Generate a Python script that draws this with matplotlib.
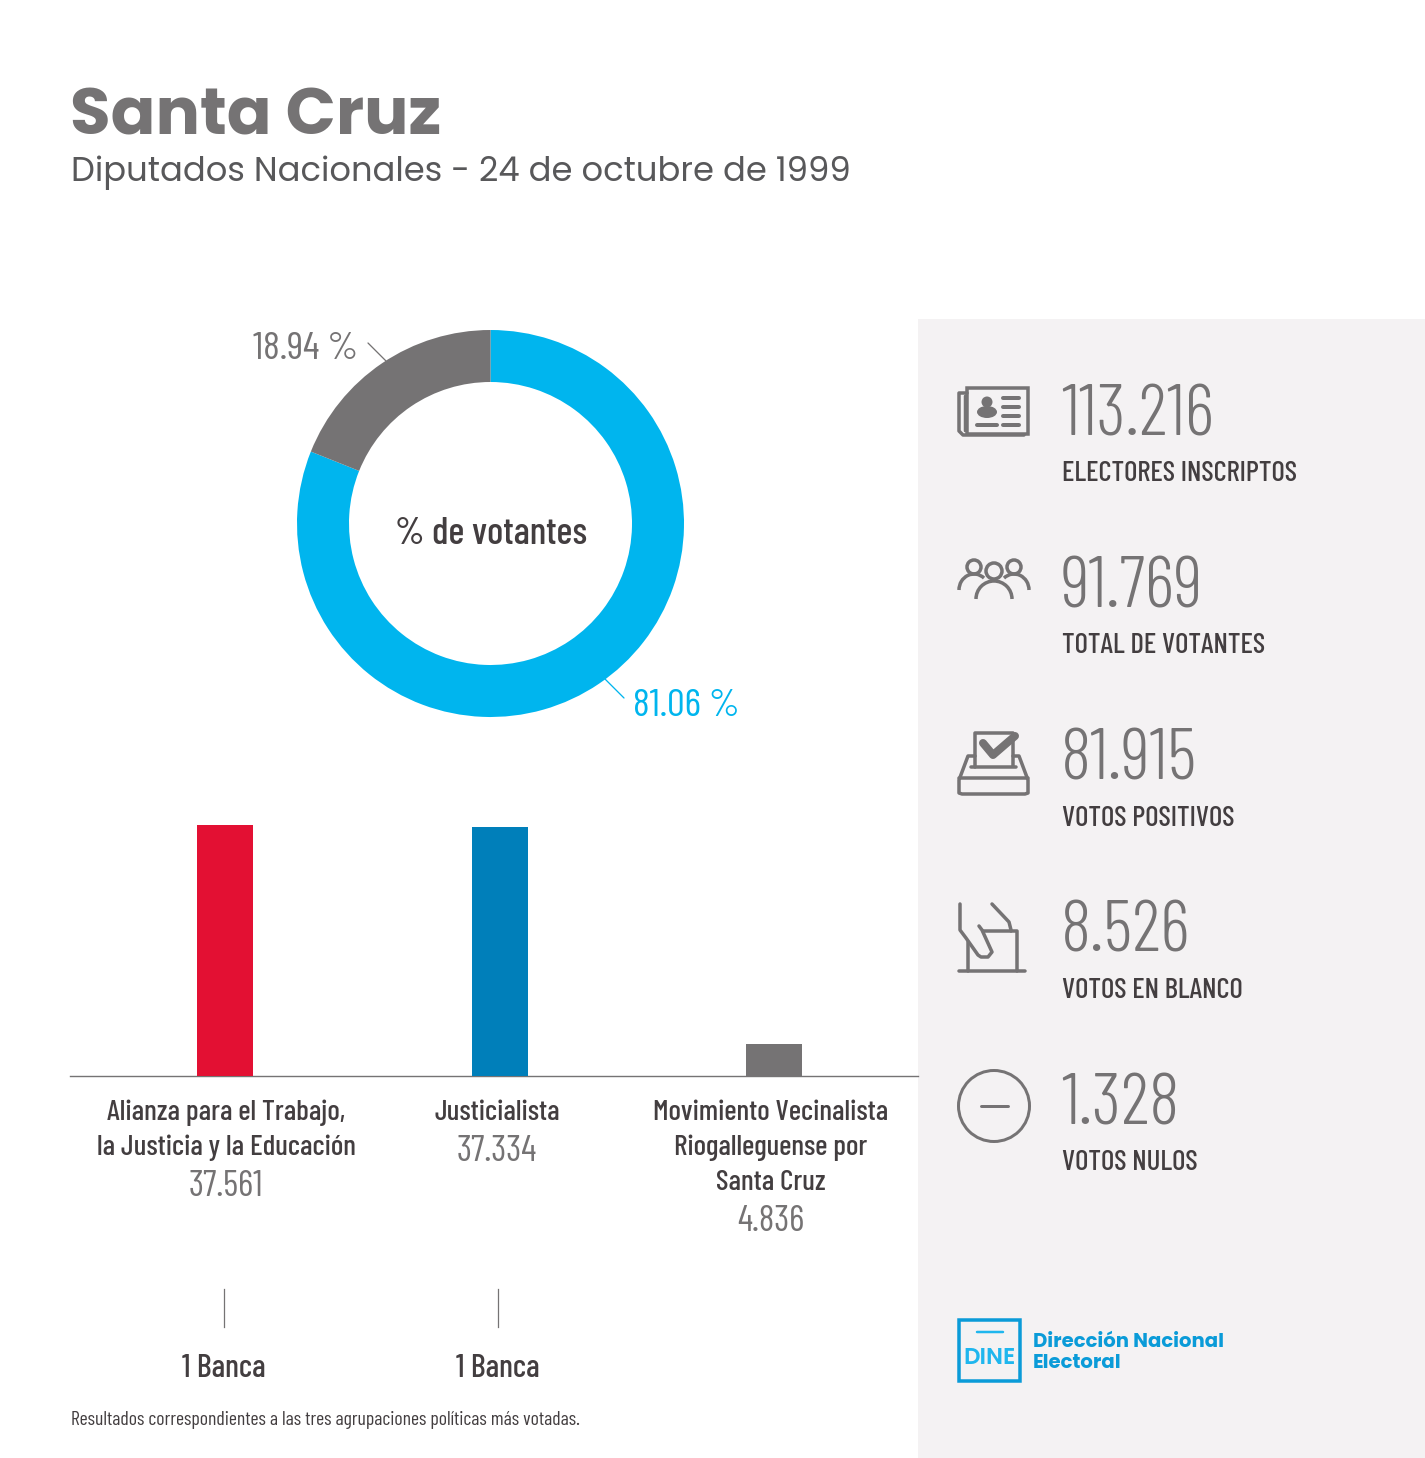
import matplotlib
matplotlib.use('Agg')
import matplotlib.pyplot as plt
from matplotlib.patches import Rectangle, Circle, Ellipse, Arc

# datos
donut_labels = ['81.06 %', '18.94 %']
donut_values = [81.06, 18.94]
partidos = ['Alianza para el Trabajo,\nla Justicia y la Educación', 'Justicialista',
            'Movimiento Vecinalista\nRiogalleguense por\nSanta Cruz']
votos = [37561, 37334, 4836]
votos_txt = ['37.561', '37.334', '4.836']
bancas = ['1 Banca', '1 Banca']
stats_valor = ['113.216', '91.769', '81.915', '8.526', '1.328']
stats_label = ['ELECTORES INSCRIPTOS', 'TOTAL DE VOTANTES', 'VOTOS POSITIVOS',
               'VOTOS EN BLANCO', 'VOTOS NULOS']

GRIS = '#757374'
OSCURO = '#433E40'
CELESTE = '#00B5EE'
colores_barras = ['#E31033', '#007FBA', GRIS]
NARROW = ['Barlow Condensed', 'Roboto Condensed', 'Roboto', 'DejaVu Sans']
ANCHA = ['Poppins', 'Inter', 'DejaVu Sans']

W, H = 1425, 1458
fig = plt.figure(figsize=(W / 100, H / 100), dpi=100, facecolor='white')

# fondo en coordenadas de pixel
bg = fig.add_axes([0, 0, 1, 1])
bg.set_xlim(0, W)
bg.set_ylim(H, 0)
bg.axis('off')


def txt(x, y, s, size, color=GRIS, family=NARROW, weight='normal', ha='left'):
    return bg.text(x, y, s, fontsize=size * 0.72, color=color, family=family, weight=weight,
                   ha=ha, va='baseline')


def linea(xs, ys, lw=3.0, color=GRIS):
    bg.plot(xs, ys, color=color, lw=lw * 0.72, solid_capstyle='round', solid_joinstyle='round')


bg.add_patch(Rectangle((918, 319), W - 918, H - 319, fc='#F4F2F3', ec='none'))

txt(70, 134, 'Santa Cruz', 66, family=ANCHA, weight='bold')
txt(71, 181, 'Diputados Nacionales - 24 de octubre de 1999', 33.7, family=ANCHA, color='#58585A')

# dona
donut = fig.add_axes([(490.5 - 193.5) / W, 1 - (523.5 + 193.5) / H, 387 / W, 387 / H])
donut.pie(donut_values, colors=[CELESTE, GRIS], startangle=90, counterclock=False, radius=1.0,
          wedgeprops={'width': 52 / 193.5})
donut.set_xlim(-1, 1)
donut.set_ylim(-1, 1)

txt(491, 544, '% de votantes', 38, color=OSCURO, ha='center', weight=500)
txt(253, 359, donut_labels[1], 39.5)
txt(633, 716, donut_labels[0], 39.5, color=CELESTE)
linea([368, 386], [343, 361], lw=1.3)
linea([605, 624], [679, 698], lw=1.3, color=CELESTE)

# barras
escala = 251 / votos[0]
barras = fig.add_axes([70 / W, 1 - 1076 / H, 848 / W, 300 / H])
barras.bar(range(3), votos, width=56 / 274.5, color=colores_barras)
barras.set_xlim(-155 / 274.5, 693 / 274.5)
barras.set_ylim(0, 300 / escala)
barras.axis('off')
bg.plot([70, 918], [1076, 1076], color=GRIS, lw=1.0)

centros = [226, 497, 771]
for i in range(3):
    lineas = partidos[i].split('\n')
    for j, t in enumerate(lineas):
        txt(centros[i], 1120 + 35 * j, t, 29.3, color=OSCURO, ha='center', weight=500)
    txt(centros[i], 1120 + 35 * (len(lineas) - 1) + 41, votos_txt[i], 36.5, ha='center')

for cx, b in zip([224, 498], bancas):
    bg.plot([cx, cx], [1289, 1327], color=GRIS, lw=0.9)
    txt(cx, 1377, b, 32, color=OSCURO, ha='center', weight=500)

txt(71, 1425, 'Resultados correspondientes a las tres agrupaciones políticas más votadas.', 19.7,
    color=OSCURO)

# panel derecho
for k in range(5):
    y = 435 + k * 172.3
    txt(1061, y, stats_valor[k], 72, weight=300)
    txt(1062, y + 46, stats_label[k], 28.8, color=OSCURO, weight=500)

# icono padron
bg.add_patch(Rectangle((967, 388), 61, 46, fc='none', ec=GRIS, lw=3.5 * 0.72))
linea([967, 959, 959, 963, 1024], [393, 393, 431, 435, 435], lw=3.5)
linea([965, 965], [396, 431], lw=2.5)
bg.add_patch(Circle((987, 402), 5.5, fc=GRIS, ec='none'))
bg.add_patch(Ellipse((987, 412), 20, 12, fc=GRIS, ec='none'))
for yy in [398, 407, 416, 425]:
    linea([1003, 1019], [yy, yy], lw=4.0)
linea([977, 997], [425, 425], lw=4.0)

# icono votantes
for cx, cy, r in [(974, 567, 7), (994, 571, 8), (1014, 567, 7)]:
    bg.add_patch(Circle((cx, cy), r, fc='none', ec=GRIS, lw=3.5 * 0.72))
bg.add_patch(Arc((974, 590), 30, 32, theta1=180, theta2=310, ec=GRIS, lw=3.5 * 0.72))
bg.add_patch(Arc((1014, 590), 30, 32, theta1=230, theta2=360, ec=GRIS, lw=3.5 * 0.72))
bg.add_patch(Arc((994, 599), 36, 36, theta1=180, theta2=360, ec=GRIS, lw=3.5 * 0.72))

# icono urna con tilde
linea([975, 975, 1013, 1013], [767, 733, 733, 766], lw=3.5)
linea([971, 1016], [767, 767], lw=3.5)
linea([975, 968, 959, 959, 962, 1025, 1028, 1028, 1019, 1013],
      [756, 756, 780, 793, 794, 794, 793, 780, 756, 756], lw=3.5)
linea([959, 1028], [778, 778], lw=3.5)
linea([983, 993, 1015], [743, 755, 736], lw=8)

# icono mano
linea([960, 960, 966, 978, 981, 988, 992, 982, 979], [904, 930, 938, 955, 957, 957, 952, 930, 926], lw=3.5)
linea([992, 1009, 1011, 1011], [904, 922, 930, 931], lw=3.5)
linea([983, 1017, 1017], [931, 931, 971], lw=3.5)
linea([968, 968], [942, 971], lw=3.5)
linea([959, 1025], [971, 971], lw=3.5)

# icono nulos
bg.add_patch(Circle((994, 1106), 35.5, fc='none', ec=GRIS, lw=3 * 0.72))
linea([981, 1008], [1106, 1106], lw=3)

# logo
AZUL = '#0A9BD8'
bg.add_patch(Rectangle((959.5, 1319.5), 61, 61, fc='none', ec=AZUL, lw=3.5 * 0.72))
linea([977, 1003], [1332, 1332], lw=2.5, color='#1FB6EE')
txt(990, 1364, 'DINE', 23, color='#1FB6EE', family=ANCHA, weight=600, ha='center')
txt(1033, 1347, 'Dirección Nacional', 19.7, color=AZUL, family=ANCHA, weight='bold')
txt(1033, 1368, 'Electoral', 19.7, color=AZUL, family=ANCHA, weight='bold')

fig.savefig('out.png', dpi=100, facecolor='white')
